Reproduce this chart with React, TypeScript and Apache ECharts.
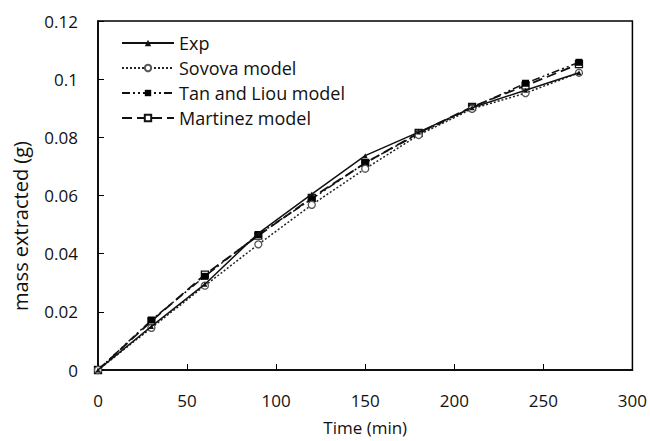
import React, { useEffect, useRef } from "react";
import * as echarts from "echarts";

const times = [0, 30, 60, 90, 120, 150, 180, 210, 240, 270];
const expData = [0, 0.015, 0.0295, 0.047, 0.0605, 0.0737, 0.0818, 0.0902, 0.0962, 0.1022];
const sovovaData = [0, 0.0145, 0.029, 0.0432, 0.0568, 0.0692, 0.0808, 0.0898, 0.0952, 0.1022];
const tanLiouData = [0, 0.0172, 0.0322, 0.0466, 0.0588, 0.0712, 0.0812, 0.0902, 0.0986, 0.1058];
const martinezData = [0, 0.0168, 0.0328, 0.0462, 0.0592, 0.0712, 0.0815, 0.0905, 0.0978, 0.1052];
const seriesNames = ["Exp", "Sovova model", "Tan and Liou model", "Martinez model"];
const xAxisTitle = "Time (min)";
const yAxisTitle = "mass extracted (g)";

const FONT = "'Open Sans', Lato, sans-serif";

export default function App() {
  const ref = useRef<HTMLDivElement>(null);
  useEffect(() => {
    if (!ref.current) return;
    const chart = echarts.init(ref.current, undefined, { renderer: "svg" });
    const pair = (arr: number[]) => times.map((t, i) => [t, arr[i]]);
    chart.setOption({
      animation: false,
      backgroundColor: "#ffffff",
      grid: { left: 98, right: 14, top: 21, bottom: 70, show: true, borderColor: "#000", borderWidth: 1.5 },
      legend: {
        orient: "vertical",
        left: 116,
        top: 29,
        itemWidth: 52,
        itemHeight: 8,
        itemGap: 7,
        data: seriesNames,
        textStyle: { fontFamily: FONT, fontSize: 18, color: "#111" },
      },
      graphic: [
        {
          type: "text",
          x: 20,
          y: 226,
          rotation: Math.PI / 2,
          style: {
            text: yAxisTitle,
            fontFamily: FONT,
            fontSize: 20,
            fill: "#111",
            textAlign: "center",
            textVerticalAlign: "middle",
          },
        },
      ],
      xAxis: {
        type: "value",
        min: 0,
        max: 300,
        interval: 50,
        name: xAxisTitle,
        nameLocation: "middle",
        nameGap: 49,
        nameTextStyle: { fontFamily: FONT, fontSize: 17, color: "#111" },
        axisLine: { lineStyle: { color: "#000", width: 1.5 } },
        axisTick: { inside: true, length: 6, lineStyle: { color: "#000" } },
        axisLabel: { fontFamily: FONT, fontSize: 17, color: "#111", margin: 22 },
        splitLine: { show: false },
      },
      yAxis: {
        type: "value",
        min: 0,
        max: 0.12,
        interval: 0.02,
        axisLine: { show: true, lineStyle: { color: "#000", width: 1.5 } },
        axisTick: { show: true, inside: true, length: 6, lineStyle: { color: "#000" } },
        axisLabel: { fontFamily: FONT, fontSize: 17, color: "#111", margin: 20 },
        splitLine: { show: false },
      },
      series: [
        {
          name: seriesNames[0],
          type: "line",
          data: pair(expData),
          symbol: "triangle",
          symbolSize: 5,
          itemStyle: { color: "#111" },
          lineStyle: { color: "#111", width: 1.5, type: "solid" },
          z: 5,
        },
        {
          name: seriesNames[1],
          type: "line",
          data: pair(sovovaData),
          symbol: "circle",
          symbolSize: 7,
          itemStyle: { color: "#fff", borderColor: "#555", borderWidth: 1.3 },
          lineStyle: { color: "#222", width: 1.5, type: [2, 2] },
          z: 4,
        },
        {
          name: seriesNames[2],
          type: "line",
          data: pair(tanLiouData),
          symbol: "rect",
          symbolSize: 7,
          itemStyle: { color: "#000" },
          lineStyle: { color: "#111", width: 1.5, type: [8, 3, 2, 3, 2, 3] },
          z: 3,
        },
        {
          name: seriesNames[3],
          type: "line",
          data: pair(martinezData),
          symbol: "rect",
          symbolSize: 7,
          itemStyle: { color: "#fff", borderColor: "#111", borderWidth: 1.3 },
          lineStyle: { color: "#111", width: 1.8, type: [10, 5] },
          z: 2,
        },
      ],
    });
    return () => chart.dispose();
  }, []);
  return <div ref={ref} style={{ width: 650, height: 441, position: "absolute", left: 0, top: 0 }} />;
}
